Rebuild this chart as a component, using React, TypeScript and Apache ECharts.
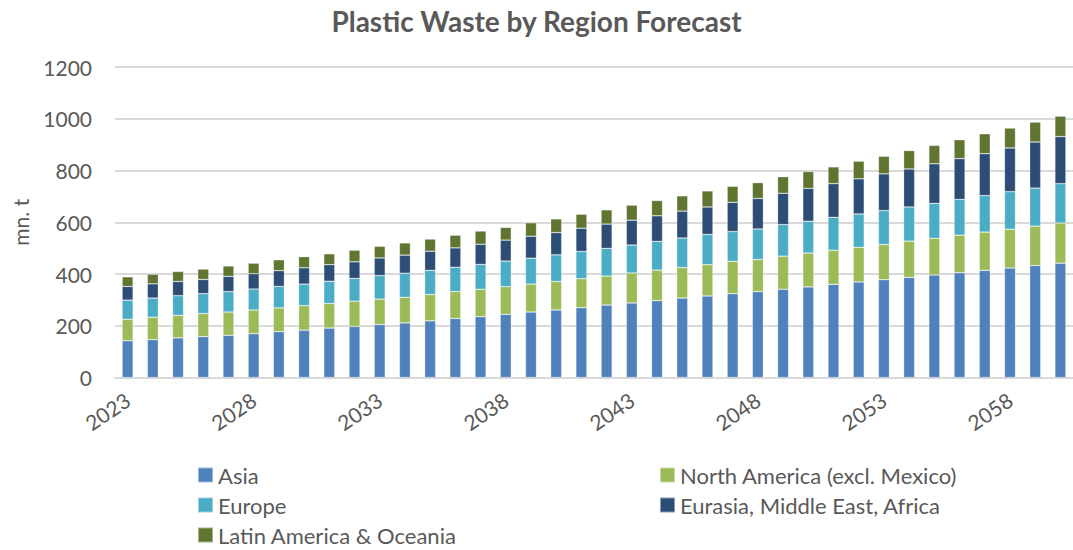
import React, { useEffect, useRef } from "react";
import * as echarts from "echarts";

const years: string[] = [];
for (let y = 2023; y <= 2060; y++) years.push(String(y));

const asia = [142, 146, 153, 158, 163, 169, 177, 183, 191, 197, 205, 211, 219, 228, 235, 244, 253, 261, 270, 280, 288, 297, 307, 315, 324, 332, 341, 350, 360, 369, 378, 387, 396, 405, 414, 423, 433, 442];
const northAmerica = [83, 87, 87, 89, 90, 92, 92, 95, 95, 98, 98, 99, 102, 104, 106, 107, 108, 110, 112, 112, 116, 118, 118, 121, 125, 124, 128, 131, 132, 134, 136, 140, 142, 145, 148, 150, 152, 155];
const europe = [74, 74, 76, 77, 79, 81, 83, 83, 86, 88, 91, 93, 93, 94, 96, 99, 100, 103, 105, 107, 108, 111, 114, 117, 115, 118, 122, 123, 127, 129, 131, 132, 135, 138, 141, 145, 147, 152];
const eurasiaMEA = [53, 55, 55, 55, 59, 59, 61, 63, 64, 64, 68, 70, 74, 75, 78, 81, 85, 86, 90, 94, 96, 99, 104, 106, 113, 118, 121, 127, 130, 136, 142, 147, 153, 158, 162, 169, 178, 182];
const latinOceania = [37, 37, 39, 40, 40, 41, 42, 43, 42, 45, 45, 47, 47, 49, 51, 49, 52, 53, 54, 55, 58, 59, 59, 62, 62, 61, 64, 65, 65, 68, 68, 71, 71, 73, 77, 77, 77, 79];

const seriesNames = [
  "Asia",
  "North America (excl. Mexico)",
  "Europe",
  "Eurasia, Middle East, Africa",
  "Latin America & Oceania",
];
const seriesData = [asia, northAmerica, europe, eurasiaMEA, latinOceania];
const colors = ["#4F81BD", "#9BBB59", "#4BACC6", "#2C4D75", "#5F7530"];

const FONT = "Lato, 'Open Sans', sans-serif";
const GREY = "#595959";

export default function App() {
  const ref = useRef<HTMLDivElement>(null);
  useEffect(() => {
    if (!ref.current) return;
    const chart = echarts.init(ref.current, undefined, { renderer: "svg" });
    const legendText = { fontSize: 22, lineHeight: 22, color: GREY, fontFamily: FONT };
    const legendBase = {
      orient: "vertical",
      top: 464,
      padding: 0,
      icon: "rect",
      itemWidth: 15,
      itemHeight: 15,
      itemGap: 8,
      textStyle: legendText,
    };
    chart.setOption({
      animation: false,
      color: colors,
      textStyle: { fontFamily: FONT },
      title: {
        text: "Plastic Waste by Region Forecast",
        left: "center",
        top: 7,
        padding: 0,
        textStyle: { fontSize: 28, fontWeight: "bold", color: GREY, fontFamily: FONT },
      },
      legend: [
        { ...legendBase, data: [seriesNames[0], seriesNames[2], seriesNames[4]], left: 197 },
        { ...legendBase, data: [seriesNames[1], seriesNames[3]], left: 659 },
      ],
      grid: { left: 115, top: 67, width: 961, height: 310.5, containLabel: false },
      xAxis: {
        type: "category",
        data: years,
        axisLine: { lineStyle: { color: "#D9D9D9", width: 2 } },
        axisTick: { show: false },
        axisLabel: {
          interval: 4,
          rotate: 34,
          fontSize: 21,
          color: GREY,
          fontFamily: FONT,
          margin: 20,
        },
      },
      yAxis: {
        type: "value",
        min: 0,
        max: 1200,
        interval: 200,
        name: "mn. t",
        nameLocation: "middle",
        nameGap: 84,
        nameRotate: 90,
        nameTextStyle: { fontSize: 21, color: GREY, fontFamily: FONT },
        axisLine: { show: false },
        axisTick: { show: false },
        axisLabel: {
          fontSize: 21,
          color: GREY,
          fontFamily: FONT,
          margin: 23,
          formatter: (v: number) => String(v),
        },
        splitLine: { lineStyle: { color: "#D9D9D9", width: 2 } },
      },
      series: seriesNames.map((name, i) => ({
        name,
        type: "bar",
        stack: "total",
        data: seriesData[i],
        barWidth: 11,
        itemStyle: { color: colors[i], borderColor: "rgba(255,255,255,0.45)", borderWidth: 0.6 },
      })),
    });
    return () => chart.dispose();
  }, []);
  return (
    <div
      ref={ref}
      style={{ position: "fixed", left: 0, top: 0, width: 1073, height: 550, background: "#fff" }}
    />
  );
}
